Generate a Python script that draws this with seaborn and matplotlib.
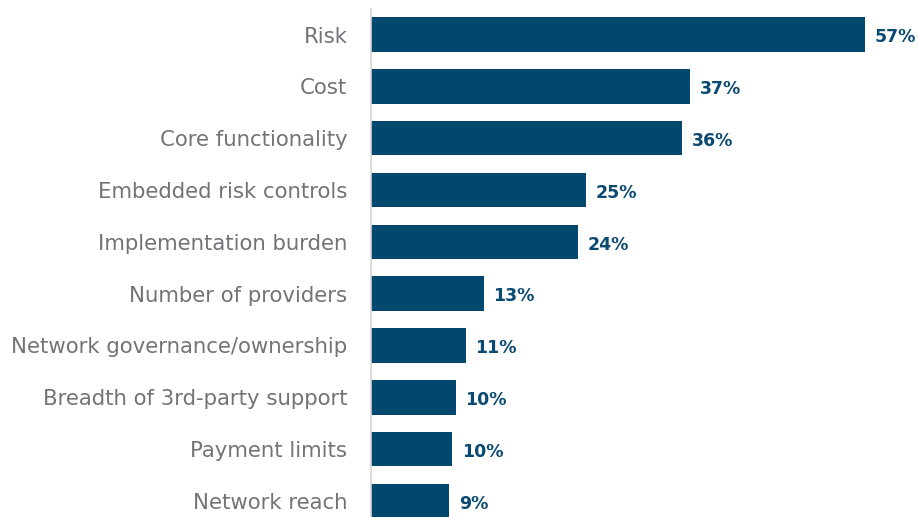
import matplotlib
matplotlib.use("Agg")
import matplotlib.pyplot as plt
import seaborn as sns
import pandas as pd

categories = ["Risk", "Cost", "Core functionality", "Embedded risk controls",
              "Implementation burden", "Number of providers",
              "Network governance/ownership", "Breadth of 3rd-party support",
              "Payment limits", "Network reach"]
values = [57.0, 36.8, 35.9, 24.8, 23.9, 13.0, 10.9, 9.75, 9.4, 9.0]
value_labels = ["57%", "37%", "36%", "25%", "24%", "13%", "11%", "10%", "10%", "9%"]

BAR = "#02476E"
LABEL_BLUE = "#0A4A72"
GRAY_TXT = "#727376"

sns.set_style("white")
plt.rcParams['font.family'] = ['DejaVu Sans']

df = pd.DataFrame({"category": categories, "value": values})

W, H = 918, 517
fig = plt.figure(figsize=(W / 100, H / 100), dpi=100)
ax = fig.add_axes([371 / W, 0, 1 - 371 / W, 1 - 9.3 / H])

sns.barplot(data=df, y="category", x="value", orient="h", color=BAR,
            width=0.666, saturation=1, ax=ax, order=categories,
            edgecolor=BAR, linewidth=0)

ax.set_xlim(0, 547 / 8.67)
ax.set_ylim(9.31, -0.487)
ax.set_xlabel("")
ax.set_ylabel("")
ax.set_xticks([])
ax.tick_params(axis="y", length=0, pad=17, labelsize=15.3, labelcolor=GRAY_TXT)

for s in ["top", "right", "bottom"]:
    ax.spines[s].set_visible(False)
ax.spines["left"].set_color("#d6d6d6")
ax.spines["left"].set_linewidth(1.2)

for i, (v, lab) in enumerate(zip(values, value_labels)):
    ax.annotate(lab, xy=(v, i), xytext=(7, -2), textcoords="offset points",
                ha="left", va="center", fontsize=12.5, fontweight="bold",
                color=LABEL_BLUE, clip_on=False, annotation_clip=False)

fig.savefig("out.png", dpi=100)
